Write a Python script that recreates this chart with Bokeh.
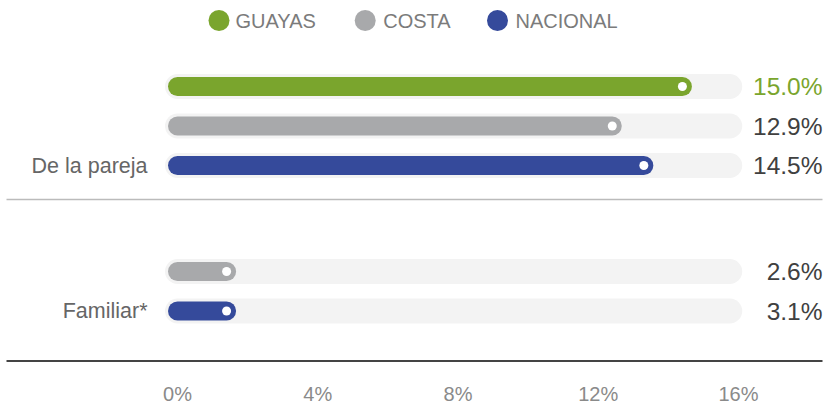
from bokeh.plotting import figure
from bokeh.models import Range1d
from bokeh.core.properties import value
from bokeh.embed import file_html
from bokeh.resources import INLINE

# ---------------- data ----------------
groups = ["De la pareja", "Familiar*"]
series = ["GUAYAS", "COSTA", "NACIONAL"]
series_colors = ["#7aa52d", "#a8a9ab", "#354a9b"]
# printed values (None = series absent in that group)
label_pareja = [15.0, 12.9, 14.5]
label_familiar = [None, 2.6, 3.1]
# bar lengths as drawn in the picture (percent on the axis)
bar_pareja = [14.4, 12.4, 13.3]
bar_familiar = [None, 1.4, 1.4]
track_max = 15.75
tick_values = [0, 4, 8, 12, 16]
tick_labels = ["0%", "4%", "8%", "12%", "16%"]

# ---------------- layout (pixels) ----------------
W, H = 827, 406
x0_px, x16_px = 177.0, 738.0
ppu = (x16_px - x0_px) / 16.0
xr = Range1d(-x0_px / ppu, (W - x0_px) / ppu)
yr = Range1d(H, 0)

def px2x(px):
    return (px - x0_px) / ppu

row0 = 86.0
row_step = 39.5
group_step = 145.5

FONT = value("Liberation Sans")

p = figure(width=W, height=H, x_range=xr, y_range=yr, output_backend="svg",
           toolbar_location=None, min_border=0,
           x_axis_location=None, y_axis_location=None)
p.grid.visible = False
p.outline_line_color = None
p.background_fill_color = "white"

labels_all = [label_pareja, label_familiar]
bars_all = [bar_pareja, bar_familiar]

trk_y, bar_y, bar_v, bar_c = [], [], [], []
val_y, val_t, val_c = [], [], []
cat_y = []
for g, gname in enumerate(groups):
    for i, s in enumerate(series):
        v = bars_all[g][i]
        if v is None:
            continue
        y = row0 + g * group_step + i * row_step
        trk_y.append(y)
        bar_y.append(y)
        bar_v.append(v)
        bar_c.append(series_colors[i])
        val_y.append(y)
        val_t.append(f"{labels_all[g][i]:.1f}%")
        val_c.append("#7aa52d" if (g == 0 and i == 0) else "#404040")
    cat_y.append(row0 + g * group_step + 2 * row_step)

# tracks
p.segment(x0=[0] * len(trk_y), y0=trk_y, x1=[track_max] * len(trk_y), y1=trk_y,
          line_width=25, line_color="#f3f3f3", line_cap="round")
# bars
p.segment(x0=[0] * len(bar_y), y0=bar_y, x1=bar_v, y1=bar_y,
          line_width=19, line_color=bar_c, line_cap="round")
# end dots
p.scatter(x=bar_v, y=bar_y, size=9, marker="circle", fill_color="white", line_color=None)

# value labels
p.text(x=[px2x(822)] * len(val_y), y=val_y, text=val_t, text_color=val_c,
       text_font=FONT, text_font_size="24.5px", text_align="right", text_baseline="middle")

# category labels
p.text(x=[px2x(147)] * len(cat_y), y=cat_y, text=groups, text_color="#666666",
       text_font=FONT, text_font_size="21.5px", text_align="right", text_baseline="middle")

# separators
sep1 = row0 + 2 * row_step + 34
sep2 = row0 + group_step + 2 * row_step + 50
p.segment(x0=[px2x(6)], y0=[sep1], x1=[px2x(822)], y1=[sep1], line_color="#bbbbbb", line_width=1.5)
p.segment(x0=[px2x(6)], y0=[sep2], x1=[px2x(822)], y1=[sep2], line_color="#444444", line_width=2)

# tick labels
p.text(x=tick_values, y=[393] * len(tick_values), text=tick_labels, text_color="#8a8a8a",
       text_font=FONT, text_font_size="20px", text_align="center", text_baseline="middle")

# legend
leg_circle_px = [218.5, 364.7, 497.0]
leg_text_px = [235.0, 382.7, 515.0]
p.scatter(x=[px2x(c) for c in leg_circle_px], y=[20] * 3, size=21, marker="circle",
          fill_color=series_colors, line_color=None)
p.text(x=[px2x(c) for c in leg_text_px], y=[20] * 3, text=series, text_color="#7b7b7b",
       text_font=FONT, text_font_size="20px", text_align="left", text_baseline="middle")

open("out.html", "w").write(file_html(p, INLINE))
